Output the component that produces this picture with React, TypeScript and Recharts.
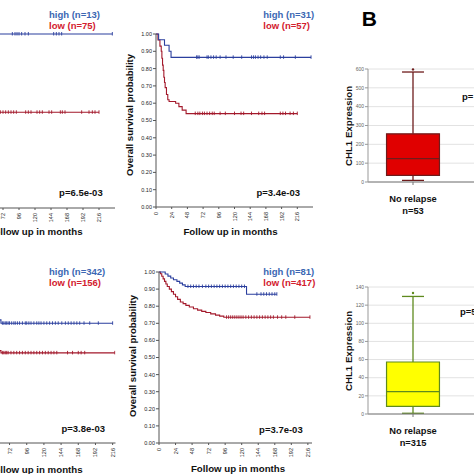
import React from "react";
import {
  LineChart,
  Line,
  XAxis,
  YAxis,
  ComposedChart,
  CartesianGrid,
  ReferenceArea,
  ReferenceLine,
  Scatter,
} from "recharts";

const FONT = '"Liberation Sans", Arial, Helvetica, sans-serif';

const BLUE_LINE = "#2b3f9e";
const RED_LINE = "#a3192b";
const BLUE_TXT = "#3b67b3";
const RED_TXT = "#d3202e";

// shared axes
const monthTicks = [0, 24, 48, 72, 96, 120, 144, 168, 192, 216];
// left panels are cut by the image edge, only these month labels are in view
const croppedMonthTicks = [72, 96, 120, 144, 168, 192, 216];
const survTicks = [0, 0.1, 0.2, 0.3, 0.4, 0.5, 0.6, 0.7, 0.8, 0.9, 1];

// top left panel (cropped) : high n=13, low n=75
const tlHighSteps = [[0, 1]];
const tlHighCensor = [86, 90, 93, 96, 100, 105, 110, 148, 152, 156, 160, 236];
const tlLowSteps = [[0, 1], [4, 0.95], [8, 0.88], [12, 0.8], [16, 0.72], [20, 0.66], [26, 0.62], [34, 0.59], [44, 0.57], [56, 0.55]];
const tlLowCensor = [68, 72, 76, 80, 84, 88, 92, 106, 110, 114, 123, 127, 131, 141, 145, 158, 161, 165, 190, 201, 206, 210, 216];

// top middle panel : high n=31, low n=57
const tmHighSteps = [[0, 1], [4, 0.967], [13, 0.935], [20, 0.9], [23, 0.865]];
const tmHighCensor = [62, 64, 66, 78, 80, 84, 88, 92, 98, 107, 118, 131, 146, 149, 152, 156, 160, 165, 170, 190, 195, 213, 237];
const tmLowSteps = [[0, 1], [3, 0.965], [6, 0.93], [8, 0.9], [9, 0.86], [10, 0.82], [11, 0.79], [12, 0.75], [13, 0.72], [14, 0.69], [16, 0.65], [18, 0.62], [20, 0.61], [30, 0.6], [35, 0.58], [40, 0.56], [46, 0.54]];
const tmLowCensor = [60, 64, 67, 71, 74, 78, 82, 86, 89, 98, 106, 120, 130, 134, 146, 157, 162, 166, 190, 194, 198, 205, 210, 216];

// bottom left panel (cropped) : high n=342, low n=156
const blHighSteps = [[0, 1], [6, 0.97], [12, 0.93], [18, 0.88], [24, 0.84], [30, 0.8], [36, 0.77], [42, 0.74], [50, 0.72], [60, 0.7]];
const blHighCensor = [62, 64, 66, 68, 70, 72, 75, 78, 80, 83, 86, 90, 94, 96, 99, 102, 106, 110, 113, 116, 120, 124, 128, 132, 136, 140, 145, 150, 154, 158, 162, 166, 170, 176, 184, 196, 216];
const blLowSteps = [[0, 1], [4, 0.95], [8, 0.88], [12, 0.8], [16, 0.73], [20, 0.67], [26, 0.62], [32, 0.58], [40, 0.55], [50, 0.54], [60, 0.527]];
const blLowCensor = [62, 64, 66, 68, 70, 74, 78, 82, 86, 90, 94, 98, 102, 106, 110, 114, 118, 122, 126, 130, 134, 138, 153, 160, 168, 172, 177, 219];

// bottom middle panel : high n=81, low n=417
const bmHighSteps = [[0, 1], [9, 0.988], [13, 0.976], [17, 0.965], [21, 0.955], [26, 0.945], [30, 0.935], [34, 0.925], [38, 0.915], [127, 0.87]];
const bmHighCensor = [42, 46, 50, 54, 58, 63, 68, 72, 76, 80, 84, 88, 92, 96, 100, 104, 108, 112, 116, 120, 124, 142, 148, 152, 156, 160, 164, 168, 171];
const bmLowSteps = [[0, 1], [2, 0.99], [4, 0.975], [6, 0.96], [8, 0.945], [10, 0.93], [12, 0.915], [15, 0.9], [18, 0.885], [21, 0.87], [24, 0.855], [27, 0.84], [31, 0.825], [35, 0.815], [39, 0.805], [44, 0.795], [50, 0.785], [56, 0.777], [62, 0.77], [68, 0.763], [75, 0.755], [82, 0.748], [88, 0.742], [94, 0.735]];
const bmLowCensor = [98, 101, 104, 107, 110, 113, 116, 119, 122, 126, 130, 134, 138, 142, 146, 150, 154, 158, 162, 166, 172, 178, 184, 197, 219];

// box plots (B)
const topBoxTicks = [0, 100, 200, 300, 400, 500, 600];
const topBoxStats = { min: 8.5, q1: 35, median: 124, q3: 256, max: 584, outlier: 598 };
const bottomBoxTicks = [0, 20, 40, 60, 80, 100, 120, 140];
const bottomBoxStats = { min: 0.8, q1: 8.4, median: 24.6, q3: 57.3, max: 129.6, outlier: 133.4 };
const boxGroup = "No relapse";
const topBoxN = 53;
const bottomBoxN = 315;

type Pt = { t: number; s: number; c: boolean };

function kmPoints(steps: number[][], censored: number[]): Pt[] {
  const pts: Pt[] = steps.map(([t, s]) => ({ t, s, c: false }));
  censored.forEach((t) => {
    let s = steps[0][1];
    steps.forEach(([st, sv]) => {
      if (st <= t) s = sv;
    });
    pts.push({ t, s, c: true });
  });
  return pts.sort((a, b) => a.t - b.t || (a.c ? 1 : 0) - (b.c ? 1 : 0));
}

const censorDot = (color: string) => (p: any) => {
  const { cx, cy, payload, index } = p;
  if (!payload || !payload.c || cx == null) return <g key={`n${index}`} />;
  return <line key={`c${index}`} x1={cx} x2={cx} y1={cy - 2} y2={cy + 1.5} stroke={color} strokeWidth={0.9} />;
};

const MonthTick = (props: any) => {
  const { x, y, payload } = props;
  return (
    <text
      transform={`translate(${x},${y + 1}) rotate(-90)`}
      fontSize={5.5}
      fill="#222"
      fontFamily={FONT}
      textAnchor="end"
      dominantBaseline="central"
    >
      {payload.value}
    </text>
  );
};

function KmPanel({ plotLeft, plotTop, plotW, plotH, xMax, high, low, cropped = false }: any) {
  const YW = 40, MT = 4, MR = 4, XH = 22, MB = 2;
  return (
    <div style={{ position: "absolute", left: plotLeft - YW, top: plotTop - MT }}>
      <LineChart width={YW + plotW + MR} height={MT + plotH + XH + MB} margin={{ top: MT, right: MR, bottom: MB, left: 0 }}>
        <XAxis
          type="number"
          dataKey="t"
          domain={[0, xMax]}
          ticks={cropped ? croppedMonthTicks : monthTicks}
          interval={0}
          allowDataOverflow
          height={XH}
          stroke="#555"
          tickSize={2}
          tick={<MonthTick />}
        />
        <YAxis
          type="number"
          domain={[0, 1]}
          ticks={survTicks}
          interval={0}
          width={YW}
          stroke="#555"
          tickSize={3}
          tickMargin={1}
          tick={cropped ? false : { fontSize: 5.5, fill: "#222", fontFamily: FONT }}
          tickFormatter={(v: number) => v.toFixed(2)}
        />
        <Line data={low} dataKey="s" type="stepAfter" stroke={RED_LINE} strokeWidth={1.1} dot={censorDot(RED_LINE)} activeDot={false} isAnimationActive={false} />
        <Line data={high} dataKey="s" type="stepAfter" stroke={BLUE_LINE} strokeWidth={1.1} dot={censorDot(BLUE_LINE)} activeDot={false} isAnimationActive={false} />
      </LineChart>
    </div>
  );
}

const GroupTick = (props: any) => {
  const { x, y, label, n } = props;
  return (
    <g>
      <text x={x} y={y + 15} textAnchor="middle" fontSize={9.3} fontWeight="bold" fontFamily={FONT} fill="#111">
        {label}
      </text>
      <text x={x} y={y + 26.5} textAnchor="middle" fontSize={9.3} fontWeight="bold" fontFamily={FONT} fill="#111">
        n={n}
      </text>
    </g>
  );
};

const BOX_HALF = 0.294;
const CAP_HALF = 0.122;

function BoxPanel({ plotTop, plotH, ticks, stats, n, fill, edge }: any) {
  const YW = 28, MT = 4, XH = 40, PW = 180, plotLeft = 368;
  const yMax = ticks[ticks.length - 1];
  return (
    <div style={{ position: "absolute", left: plotLeft - YW, top: plotTop - MT }}>
      <ComposedChart
        width={YW + PW}
        height={MT + plotH + XH}
        margin={{ top: MT, right: 0, bottom: 0, left: 0 }}
        data={[{ pos: 0.5, out: stats.outlier }]}
      >
        <CartesianGrid vertical={false} stroke="#e2e2e2" />
        <XAxis
          type="number"
          dataKey="pos"
          domain={[0, 2]}
          ticks={[0.5]}
          height={XH}
          stroke="#777"
          tickSize={3}
          tick={<GroupTick label={boxGroup} n={n} />}
        />
        <YAxis
          type="number"
          domain={[0, yMax]}
          ticks={ticks}
          interval={0}
          width={YW}
          stroke="#999"
          tickSize={3}
          tickMargin={1}
          tick={{ fontSize: 5, fill: "#666", fontFamily: FONT }}
        />
        <ReferenceLine segment={[{ x: 0.5, y: stats.q3 }, { x: 0.5, y: stats.max }]} stroke={edge} strokeWidth={1.3} />
        <ReferenceLine segment={[{ x: 0.5, y: stats.min }, { x: 0.5, y: stats.q1 }]} stroke={edge} strokeWidth={1.3} />
        <ReferenceLine segment={[{ x: 0.5 - CAP_HALF, y: stats.max }, { x: 0.5 + CAP_HALF, y: stats.max }]} stroke={edge} strokeWidth={1.3} />
        <ReferenceLine segment={[{ x: 0.5 - CAP_HALF, y: stats.min }, { x: 0.5 + CAP_HALF, y: stats.min }]} stroke={edge} strokeWidth={1.3} />
        <ReferenceArea x1={0.5 - BOX_HALF} x2={0.5 + BOX_HALF} y1={stats.q1} y2={stats.q3} fill={fill} fillOpacity={1} stroke={edge} strokeWidth={1.2} />
        <ReferenceLine segment={[{ x: 0.5 - BOX_HALF, y: stats.median }, { x: 0.5 + BOX_HALF, y: stats.median }]} stroke={edge} strokeWidth={1.2} />
        <Scatter dataKey="out" fill={edge} shape={(p: any) => <circle cx={p.cx} cy={p.cy} r={1.2} fill={edge} />} isAnimationActive={false} />
      </ComposedChart>
    </div>
  );
}

function Txt({ x, y, size = 9.5, color = "#111", anchor = "start", rotate = false, children }: any) {
  const tx = anchor === "middle" ? "-50%" : anchor === "end" ? "-100%" : "0";
  return (
    <div
      style={{
        position: "absolute",
        left: x,
        top: y,
        transform: `translate(${tx}, -50%)${rotate ? " rotate(-90deg)" : ""}`,
        fontFamily: FONT,
        fontWeight: 700,
        fontSize: size,
        color,
        whiteSpace: "nowrap",
        lineHeight: 1,
      }}
    >
      {children}
    </div>
  );
}

export default function App() {
  return (
    <div style={{ position: "fixed", left: 0, top: 0, width: 474, height: 474, overflow: "hidden", background: "#fff" }}>
      {/* Kaplan-Meier panels */}
      <KmPanel cropped plotLeft={-45} plotTop={34} plotW={160} plotH={174} xMax={240} high={kmPoints(tlHighSteps, tlHighCensor)} low={kmPoints(tlLowSteps, tlLowCensor)} />
      <KmPanel plotLeft={156} plotTop={34} plotW={157} plotH={173} xMax={240} high={kmPoints(tmHighSteps, tmHighCensor)} low={kmPoints(tmLowSteps, tmLowCensor)} />
      <KmPanel cropped plotLeft={-41.6} plotTop={272} plotW={157.5} plotH={171} xMax={220} high={kmPoints(blHighSteps, blHighCensor)} low={kmPoints(blLowSteps, blLowCensor)} />
      <KmPanel plotLeft={159} plotTop={272} plotW={153} plotH={171} xMax={222} high={kmPoints(bmHighSteps, bmHighCensor)} low={kmPoints(bmLowSteps, bmLowCensor)} />

      {/* Box plots */}
      <BoxPanel plotTop={69.3} plotH={113} ticks={topBoxTicks} stats={topBoxStats} n={topBoxN} fill="#e00000" edge="#6e1c1c" />
      <BoxPanel plotTop={287.3} plotH={127} ticks={bottomBoxTicks} stats={bottomBoxStats} n={bottomBoxN} fill="#ffff00" edge="#5f8a1e" />

      {/* legends */}
      <Txt x={49} y={14.7} color={BLUE_TXT}>high (n=13)</Txt>
      <Txt x={49} y={25.7} color={RED_TXT}>low (n=75)</Txt>
      <Txt x={263.3} y={14.7} color={BLUE_TXT}>high (n=31)</Txt>
      <Txt x={263.3} y={26} color={RED_TXT}>low (n=57)</Txt>
      <Txt x={49} y={272.3} color={BLUE_TXT}>high (n=342)</Txt>
      <Txt x={49} y={283.3} color={RED_TXT}>low (n=156)</Txt>
      <Txt x={263.3} y={272.3} color={BLUE_TXT}>high (n=81)</Txt>
      <Txt x={263.3} y={283} color={RED_TXT}>low (n=417)</Txt>

      {/* p values */}
      <Txt x={102.7} y={192.7} anchor="end">p=6.5e-03</Txt>
      <Txt x={300} y={193.3} anchor="end">p=3.4e-03</Txt>
      <Txt x={105} y={429.3} anchor="end">p=3.8e-03</Txt>
      <Txt x={302.7} y={430} anchor="end">p=3.7e-03</Txt>
      <Txt x={462} y={96.7}>p=</Txt>
      <Txt x={460} y={311.7}>p=5</Txt>

      {/* axis titles */}
      <Txt x={35.5} y={232} anchor="middle" size={9.7}>Follow up in months</Txt>
      <Txt x={230.5} y={232} anchor="middle" size={9.7}>Follow up in months</Txt>
      <Txt x={35.5} y={470} anchor="middle" size={9.7}>Follow up in months</Txt>
      <Txt x={238} y={469} anchor="middle" size={9.7}>Follow up in months</Txt>
      <Txt x={130} y={115} anchor="middle" rotate>Overall survival probability</Txt>
      <Txt x={132.7} y={356} anchor="middle" rotate>Overall survival probability</Txt>
      <Txt x={349} y={126} anchor="middle" rotate size={9.7}>CHL1 Expression</Txt>
      <Txt x={349} y={351} anchor="middle" rotate size={9.7}>CHL1 Expression</Txt>

      <Txt x={361.7} y={17.5} size={21} color="#000">B</Txt>
    </div>
  );
}
